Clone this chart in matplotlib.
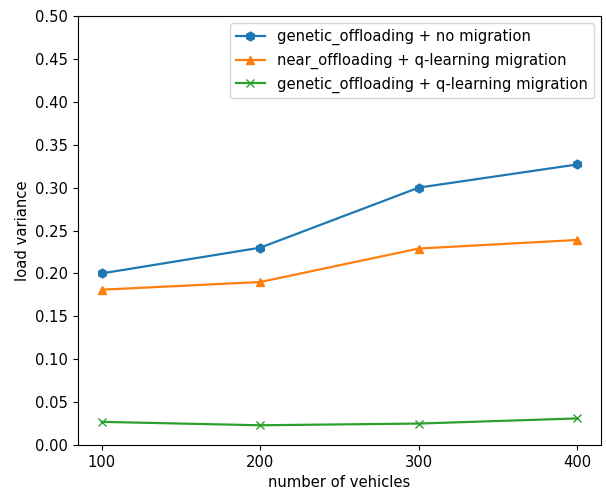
import matplotlib
matplotlib.use('Agg')
import matplotlib.pyplot as plt
import numpy as np

vehicles = [100, 200, 300, 400]
genetic_no_migration = [0.200, 0.230, 0.300, 0.327]
near_qlearning = [0.181, 0.190, 0.229, 0.239]
genetic_qlearning = [0.027, 0.023, 0.025, 0.031]

# the reference looks like a slightly upscaled default render
scale = 1.06
plt.rcParams['font.size'] = 10 * scale
plt.rcParams['lines.linewidth'] = 1.5 * scale
plt.rcParams['lines.markersize'] = 6 * scale

fig = plt.figure(figsize=(6.06, 4.96), dpi=100)
ax = fig.add_axes([0.1287, 0.1028, 0.863, 0.8649])

ax.plot(vehicles, genetic_no_migration, marker='h', label='genetic_offloading + no migration')
ax.plot(vehicles, near_qlearning, marker='^', label='near_offloading + q-learning migration')
ax.plot(vehicles, genetic_qlearning, marker='x', label='genetic_offloading + q-learning migration')

ax.set_xticks(vehicles)
ax.set_ylim(0, 0.5)
ax.set_yticks(np.arange(0, 0.501, 0.05))
ax.set_xlabel('number of vehicles')
ax.set_ylabel('load variance')
ax.legend(loc='upper right')

fig.savefig('out.png', dpi=100)
